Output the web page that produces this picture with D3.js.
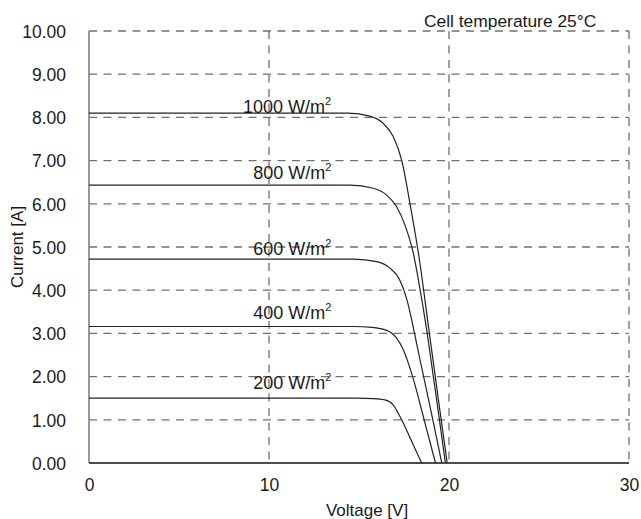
<!DOCTYPE html>
<html>
<head>
<meta charset="utf-8">
<script src="https://cdn.jsdelivr.net/npm/d3@7/dist/d3.min.js"></script>
<style>
  html, body { margin: 0; padding: 0; background: #fff; }
  svg { display: block; font-family: "Liberation Sans", Arial, sans-serif; }
</style>
</head>
<body>
<svg id="chart" width="641" height="519"></svg>
<script>
// ---- data ----
const xTicks = [0, 10, 20, 30];
const yTicks = [0, 1, 2, 3, 4, 5, 6, 7, 8, 9, 10];
const irradiances = ["1000", "800", "600", "400", "200"];

const voltage1000 = [0, 14.4, 15.6, 16.35, 16.91, 17.37, 17.83, 18.33, 18.91, 19.4, 19.9];
const current1000 = [8.10, 8.10, 8.03, 7.86, 7.55, 7.01, 6.01, 4.78, 3.00, 1.50, 0];

const voltage800 = [0, 14.5, 15.79, 16.54, 17.09, 17.56, 18.02, 18.3, 18.79, 19.13, 19.47, 19.8];
const current800 = [6.43, 6.43, 6.36, 6.20, 5.93, 5.50, 4.85, 4.24, 3.00, 2.00, 1.00, 0];

const voltage600 = [0, 14.7, 15.98, 16.72, 17.25, 17.65, 17.93, 18.2, 18.39, 19.0, 19.6];
const current600 = [4.72, 4.72, 4.66, 4.51, 4.25, 3.80, 3.31, 2.77, 2.39, 1.20, 0];

const voltage400 = [0, 14.7, 15.7, 16.54, 17.09, 17.46, 17.75, 17.98, 18.62, 19.25];
const current400 = [3.16, 3.16, 3.14, 3.07, 2.89, 2.62, 2.30, 2.00, 1.00, 0];

const voltage200 = [0, 14.9, 15.8, 16.44, 16.91, 17.18, 17.37, 17.93, 18.48];
const current200 = [1.50, 1.50, 1.49, 1.46, 1.34, 1.15, 1.00, 0.50, 0];

// label anchors in data units (voltage, current)
const labelVoltage = [8.56, 9.13, 9.13, 9.13, 9.13];
const labelCurrent = [8.11, 6.57, 4.81, 3.33, 1.71];

const seriesV = [voltage1000, voltage800, voltage600, voltage400, voltage200];
const seriesI = [current1000, current800, current600, current400, current200];

// ---- layout ----
const svg = d3.select("#chart");
const plotLeft = 89, plotRight = 629, plotTop = 31, plotBottom = 463;
const x = d3.scaleLinear().domain([0, 30]).range([plotLeft, plotRight]);
const y = d3.scaleLinear().domain([0, 10]).range([plotBottom, plotTop]);

const gridColor = "#707070";
const dash = "8,6.5";

// horizontal gridlines (1..10)
svg.append("g").selectAll("line")
  .data(yTicks.filter(d => d > 0))
  .join("line")
  .attr("x1", x(0)).attr("x2", x(30))
  .attr("y1", d => y(d)).attr("y2", d => y(d))
  .attr("stroke", gridColor).attr("stroke-width", 1.3)
  .attr("stroke-dasharray", dash);

// vertical gridlines (10,20,30)
svg.append("g").selectAll("line")
  .data(xTicks.filter(d => d > 0))
  .join("line")
  .attr("x1", d => x(d)).attr("x2", d => x(d))
  .attr("y1", y(10)).attr("y2", y(0))
  .attr("stroke", gridColor).attr("stroke-width", 1.3)
  .attr("stroke-dasharray", dash);

// left axis line
svg.append("line")
  .attr("x1", x(0)).attr("x2", x(0)).attr("y1", y(10)).attr("y2", y(0))
  .attr("stroke", "#808080").attr("stroke-width", 1.6);

// y axis tick labels
const yAxis = d3.axisLeft(y).tickValues(yTicks).tickFormat(d3.format(".2f")).tickSize(0).tickPadding(23);
const gy = svg.append("g").attr("transform", `translate(${plotLeft},0)`).call(yAxis);
gy.select(".domain").remove();
gy.selectAll("text")
  .attr("font-family", "Liberation Sans, Arial, sans-serif")
  .attr("font-size", 17.5).attr("fill", "#1a1a1a").attr("dy", "0.36em");

// x axis
const xAxis = d3.axisBottom(x).tickValues(xTicks).tickFormat(d3.format("d")).tickSize(0).tickPadding(16);
const gx = svg.append("g").attr("transform", `translate(0,${plotBottom})`).call(xAxis);
gx.select(".domain").remove();
gx.selectAll("text")
  .attr("font-family", "Liberation Sans, Arial, sans-serif")
  .attr("font-size", 17.5).attr("fill", "#1a1a1a").attr("dy", "0.71em");

// bottom axis line
svg.append("line")
  .attr("x1", x(0)).attr("x2", x(30)).attr("y1", y(0)).attr("y2", y(0))
  .attr("stroke", "#111").attr("stroke-width", 1.5);

// curves
const line = d3.line()
  .x(d => x(d[0])).y(d => y(d[1]))
  .curve(d3.curveMonotoneX);

svg.append("g").selectAll("path")
  .data(seriesV.map((vs, k) => vs.map((v, i) => [v, seriesI[k][i]])))
  .join("path")
  .attr("d", line)
  .attr("fill", "none")
  .attr("stroke", "#222")
  .attr("stroke-width", 1.2);

// curve labels
const labels = svg.append("g")
  .attr("font-family", "Liberation Sans, Arial, sans-serif")
  .attr("font-size", 18).attr("fill", "#1a1a1a");
irradiances.forEach((irr, k) => {
  const t = labels.append("text")
    .attr("x", x(labelVoltage[k])).attr("y", y(labelCurrent[k]));
  t.append("tspan").text(irr + " W/m");
  t.append("tspan").attr("font-size", 11).attr("dy", -8).text("2");
});

// axis titles
svg.append("text")
  .attr("x", 367).attr("y", 516)
  .attr("text-anchor", "middle")
  .attr("font-size", 17).attr("fill", "#1a1a1a")
  .text("Voltage [V]");

svg.append("text")
  .attr("transform", "translate(23,247) rotate(-90)")
  .attr("text-anchor", "middle")
  .attr("font-size", 17).attr("fill", "#1a1a1a")
  .text("Current [A]");

svg.append("text")
  .attr("x", 424).attr("y", 26.5)
  .attr("font-size", 17.4).attr("fill", "#1a1a1a")
  .text("Cell temperature 25°C");
</script>
</body>
</html>
